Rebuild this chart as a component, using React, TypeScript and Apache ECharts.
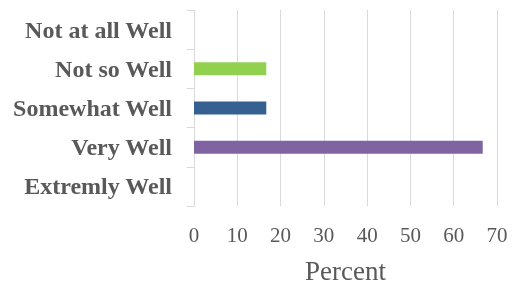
import React, { useEffect, useRef } from "react";
import * as echarts from "echarts";

const categories = ["Extremly Well", "Very Well", "Somewhat Well", "Not so Well", "Not at all Well"];
const values = [0, 66.7, 16.7, 16.7, 0];
const colors = ["#8064a2", "#8064a2", "#366092", "#92d050", "#92d050"];
const xTicks = [0, 10, 20, 30, 40, 50, 60, 70];
const axisName = "Percent";

export default function App() {
  const ref = useRef<HTMLDivElement>(null);
  useEffect(() => {
    const chart = echarts.init(ref.current!, null, { renderer: "svg" });
    const font = "Liberation Serif";
    chart.setOption({
      animation: false,
      grid: { left: 194, right: 18, top: 10, bottom: 79, containLabel: false },
      xAxis: {
        type: "value",
        min: xTicks[0],
        max: xTicks[xTicks.length - 1],
        interval: 10,
        name: axisName,
        nameLocation: "middle",
        nameGap: 51,
        nameTextStyle: { fontFamily: font, fontSize: 27, color: "#595959" },
        axisLine: { show: false },
        axisTick: { show: false },
        axisLabel: { fontFamily: font, fontSize: 21, color: "#595959", margin: 18 },
        splitLine: { show: true, lineStyle: { color: "#d9d9d9", width: 1 } },
      },
      yAxis: {
        type: "category",
        data: categories,
        axisLine: { show: true, lineStyle: { color: "#d9d9d9", width: 1 } },
        axisTick: { show: true, length: 7, lineStyle: { color: "#d9d9d9" } },
        axisLabel: { fontFamily: font, fontSize: 24, fontWeight: "bold", color: "#595959", margin: 22 },
        splitLine: { show: false },
      },
      series: [
        {
          type: "bar",
          barWidth: 13,
          data: values.map((v, i) => ({ value: v, itemStyle: { color: colors[i] } })),
        },
      ],
    });
    return () => chart.dispose();
  }, []);
  return <div ref={ref} style={{ position: "fixed", left: 0, top: 0, width: 515, height: 289 }} />;
}
